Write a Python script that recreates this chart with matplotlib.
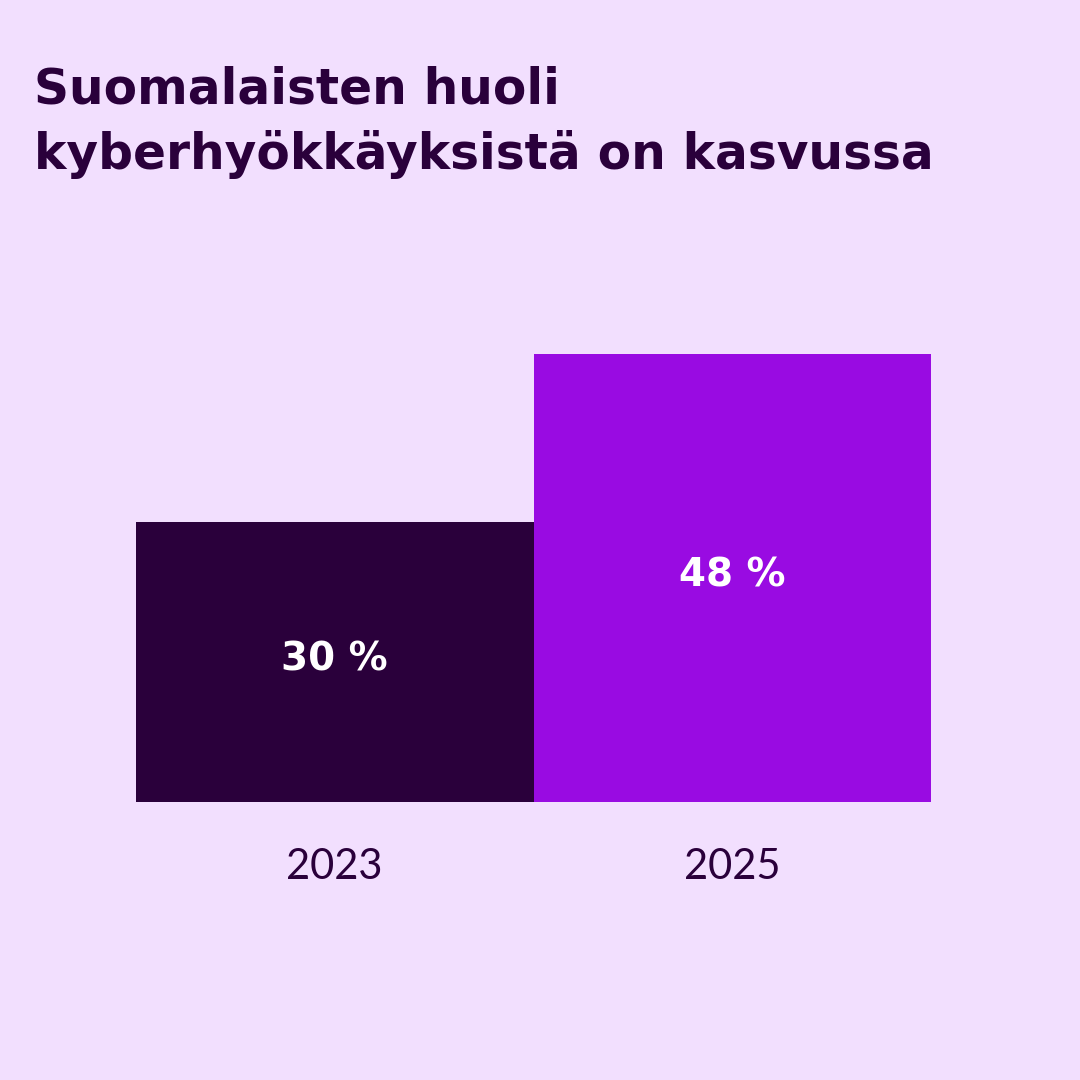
import matplotlib
matplotlib.use("Agg")
import matplotlib.pyplot as plt

years = ["2023", "2025"]
values = [30, 48]
value_labels = ["30 %", "48 %"]
title_lines = ["Suomalaisten huoli", "kyberhyökkäyksistä on kasvussa"]

BG = "#F2DFFE"
DARK = "#2A003B"
PURPLE = "#990BE2"
bar_colors = [DARK, PURPLE]

plt.rcParams['font.family'] = ['Lato', 'DejaVu Sans']

fig = plt.figure(figsize=(10.8, 10.8), dpi=100, facecolor=BG)
ax = fig.add_axes([136/1080, 1 - 802/1080, 795/1080, 448/1080])
ax.set_facecolor(BG)

x = list(range(len(years)))
ax.bar(x, values, width=1.0, color=bar_colors, linewidth=0)
ax.set_xlim(-0.5, len(years) - 0.5)
ax.set_ylim(0, max(values))

for xi, v, lab in zip(x, values, value_labels):
    ax.text(xi, v / 2 + 0.3, lab, ha='center', va='center', color='white',
            fontsize=28, fontweight='bold', family='DejaVu Sans')

ax.set_xticks(x)
ax.set_xticklabels(years, fontsize=30, color=DARK)
ax.tick_params(axis='x', length=0, pad=33)
ax.set_yticks([])
for s in ax.spines.values():
    s.set_visible(False)

for i, line in enumerate(title_lines):
    fig.text(34/1080, 1 - (104 + 65 * i)/1080, line, ha='left', va='baseline',
             color=DARK, fontsize=35, fontweight='bold', family='DejaVu Sans')

fig.savefig("out.png", dpi=100, facecolor=BG)
